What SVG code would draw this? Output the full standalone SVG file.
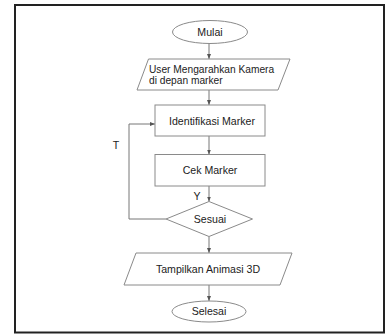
<svg xmlns="http://www.w3.org/2000/svg" width="385" height="335" viewBox="0 0 385 335">
<style>
.s{fill:#fff;stroke:#8a8a8a;stroke-width:1}
.t{font-family:"Liberation Sans",Arial,sans-serif;font-size:10.6px;fill:#222}
.c{text-anchor:middle}
.e{fill:none;stroke:#777;stroke-width:1}
</style>
<defs>
<marker id="a" markerWidth="6" markerHeight="6" refX="5" refY="3" orient="auto" markerUnits="userSpaceOnUse">
<path d="M0,1 L5,3 L0,5 Z" fill="#555"/>
</marker>
</defs>
<rect x="15" y="5" width="369" height="327.5" fill="#fff" stroke="#222" stroke-width="2"/>
<g id="connectors">
<line class="e" x1="209" y1="43.5" x2="209" y2="59" marker-end="url(#a)"/>
<line class="e" x1="209" y1="90" x2="209" y2="105" marker-end="url(#a)"/>
<line class="e" x1="209" y1="136" x2="209" y2="154.5" marker-end="url(#a)"/>
<line class="e" x1="209" y1="186" x2="209" y2="201.5" marker-end="url(#a)"/>
<line class="e" x1="209" y1="236.5" x2="209" y2="253" marker-end="url(#a)"/>
<line class="e" x1="209" y1="285" x2="209" y2="301" marker-end="url(#a)"/>
<polyline class="e" points="166,219 129,219 129,124 155,124" marker-end="url(#a)"/>
<text class="t" x="116" y="149" text-anchor="middle">T</text>
<text class="t" x="197" y="200" text-anchor="middle">Y</text>
</g>
<g id="mulai">
<ellipse class="s" cx="210" cy="32" rx="37.5" ry="11.5"/>
<text class="t c" x="210" y="35.5">Mulai</text>
</g>
<g id="input">
<polygon class="s" points="148.5,59 290,59 278,90 137,90"/>
<text class="t" x="149" y="72.5" style="font-size:10.2px">User Mengarahkan Kamera</text>
<text class="t" x="149" y="83.5" style="font-size:10.2px">di depan marker</text>
</g>
<g id="identifikasi">
<rect class="s" x="155" y="105" width="110" height="31"/>
<text class="t c" x="212" y="124.5">Identifikasi Marker</text>
</g>
<g id="cek">
<rect class="s" x="155" y="154.5" width="110" height="31.5"/>
<text class="t c" x="210" y="174">Cek Marker</text>
</g>
<g id="sesuai">
<polygon class="s" points="209,201.5 252.5,219 209,236.5 166,219"/>
<text class="t c" x="210" y="222.5">Sesuai</text>
</g>
<g id="tampilkan">
<polygon class="s" points="136,253 292,253 280,285 124,285"/>
<text class="t c" x="208" y="272.5">Tampilkan Animasi 3D</text>
</g>
<g id="selesai">
<ellipse class="s" cx="209" cy="311.5" rx="37" ry="10.5"/>
<text class="t c" x="209" y="315">Selesai</text>
</g>
</svg>
